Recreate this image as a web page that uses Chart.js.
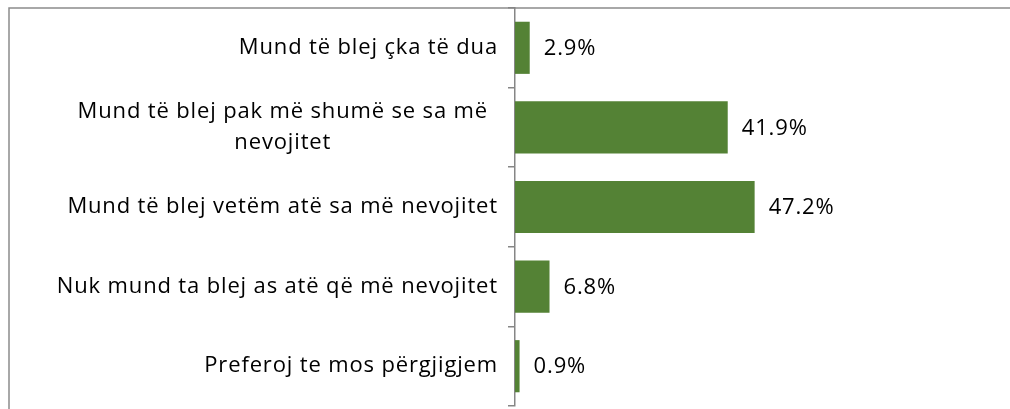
<!DOCTYPE html>
<html>
<head>
<meta charset="utf-8">
<script src="https://cdn.jsdelivr.net/npm/chart.js@4.4.1/dist/chart.umd.min.js"></script>
<style>
  html, body { margin: 0; padding: 0; background: #fff; overflow: hidden; }
  #wrap { width: 1010px; height: 409px; }
</style>
</head>
<body>
<div id="wrap"><canvas id="chart"></canvas></div>
<script>
// answers (wrapped label kept as two lines like the original)
const categories = [
    'Mund të blej çka të dua',
    ['Mund të blej pak më shumë se sa më', 'nevojitet'],
    'Mund të blej vetëm atë sa më nevojitet',
    'Nuk mund ta blej as atë që më nevojitet',
    'Preferoj te mos përgjigjem'
];
const shares = [2.9, 41.9, 47.2, 6.8, 0.9];

const FONT = '22px "Open Sans", Lato, sans-serif';
const SPACING = '0.85px';
const barColor = '#548235';
const axisColor = '#868686';

// frame of the chart box (only top and left edges are visible)
const framePlugin = {
    id: 'frame',
    beforeDraw(chart) {
        const ctx = chart.ctx;
        ctx.save();
        ctx.strokeStyle = '#8c8c8c';
        ctx.lineWidth = 1.5;
        ctx.beginPath();
        ctx.moveTo(9, chart.height + 2);
        ctx.lineTo(9, 8);
        ctx.lineTo(chart.width + 2, 8);
        ctx.stroke();
        ctx.restore();
    }
};

// category labels drawn by hand so the wrapped one can be centred
const labelPlugin = {
    id: 'catLabels',
    afterDraw(chart) {
        const ctx = chart.ctx;
        const yScale = chart.scales.y;
        ctx.save();
        ctx.font = FONT;
        ctx.letterSpacing = SPACING;
        ctx.fillStyle = '#000';
        ctx.textBaseline = 'middle';
        ctx.textAlign = 'center';
        categories.forEach((label, i) => {
            const lines = Array.isArray(label) ? label : [label];
            const widths = lines.map(l => ctx.measureText(l).width);
            const maxW = Math.max(...widths);
            const right = lines.length > 1 ? 488 : 498;
            const cx = right - maxW / 2;
            const cy = yScale.getPixelForValue(i);
            const lh = 31;
            lines.forEach((l, j) => {
                ctx.fillText(l, cx, cy + (j - (lines.length - 1) / 2) * lh);
            });
        });
        ctx.restore();
    }
};

// value labels to the right of each bar
const valuePlugin = {
    id: 'values',
    afterDatasetsDraw(chart) {
        const ctx = chart.ctx;
        const meta = chart.getDatasetMeta(0);
        ctx.save();
        ctx.font = FONT;
        ctx.letterSpacing = SPACING;
        ctx.fillStyle = '#000';
        ctx.textAlign = 'left';
        ctx.textBaseline = 'middle';
        meta.data.forEach((bar, i) => {
            ctx.fillText(shares[i].toFixed(1) + '%', bar.x + 14, bar.y + 1);
        });
        ctx.restore();
    }
};

new Chart(document.getElementById('chart'), {
    type: 'bar',
    data: {
        labels: categories,
        datasets: [{
            data: shares,
            backgroundColor: barColor,
            borderWidth: 0,
            categoryPercentage: 1,
            barPercentage: 0.655
        }]
    },
    options: {
        indexAxis: 'y',
        responsive: true,
        maintainAspectRatio: false,
        animation: false,
        layout: { padding: { top: 8, bottom: 3, left: 0, right: 0 } },
        plugins: {
            legend: { display: false },
            tooltip: { enabled: false }
        },
        scales: {
            x: {
                display: false,
                min: 0,
                max: 97.5
            },
            y: {
                afterFit(scale) { scale.width = 515; },
                grid: {
                    offset: true,
                    drawOnChartArea: false,
                    drawTicks: true,
                    tickLength: 7,
                    color: axisColor,
                    lineWidth: 1.5
                },
                border: { display: true, color: axisColor, width: 1.5 },
                ticks: { display: false }
            }
        }
    },
    plugins: [framePlugin, labelPlugin, valuePlugin]
});
</script>
</body>
</html>
